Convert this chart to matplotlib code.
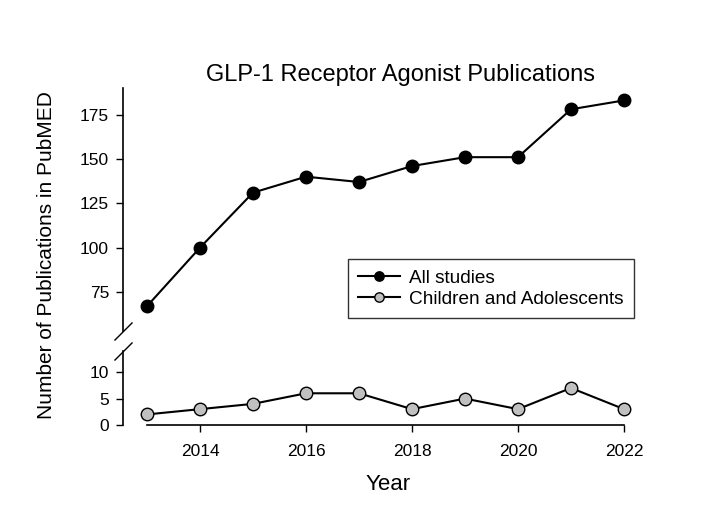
import matplotlib
matplotlib.use("Agg")
import matplotlib.pyplot as plt

years = [2013, 2014, 2015, 2016, 2017, 2018, 2019, 2020, 2021, 2022]
all_studies = [67, 100, 131, 140, 137, 146, 151, 151, 178, 183]
children = [2, 3, 4, 6, 6, 3, 5, 3, 7, 3]

upper_ticks = [75, 100, 125, 150, 175]
lower_ticks = [0, 5, 10]
x_ticks = [2014, 2016, 2018, 2020, 2022]

plt.rcParams['font.family'] = ['Liberation Sans', 'DejaVu Sans']

W, H = 707, 531
fig = plt.figure(figsize=(W / 100, H / 100), dpi=100)

left = 123 / W
right = 624 / W
ax_top = fig.add_axes([left, 1 - 331 / H, right - left, (331 - 88) / H])
ax_bot = fig.add_axes([left, 1 - 425 / H, right - left, (425 - 351) / H])

xlim = (2013 - 24 / 53, 2022)

ax_top.plot(years, all_studies, color='black', lw=1.5, marker='o', ms=9,
            mfc='black', mec='black', label='All studies', clip_on=False)
ax_top.plot([], [], color='black', lw=1.5, marker='o', ms=9,
            mfc='#c0c0c0', mec='black', label='Children and Adolescents')
ax_bot.plot(years, children, color='black', lw=1.5, marker='o', ms=9,
            mfc='#c0c0c0', mec='black', clip_on=False, zorder=3)

leg = ax_top.legend(loc='upper left',
                    bbox_to_anchor=((348 - 123) / (624 - 123), 1 - (259 - 88) / (331 - 88)),
                    fontsize=13.7, frameon=True, fancybox=False, edgecolor='black',
                    handlelength=2.2, handletextpad=0.45, borderpad=0.55,
                    labelspacing=0.2, markerscale=0.75, borderaxespad=0)
leg.get_frame().set_linewidth(1.0)

for ax in (ax_top, ax_bot):
    ax.set_xlim(*xlim)
    for s in ('top', 'right'):
        ax.spines[s].set_visible(False)
    ax.spines['left'].set_linewidth(1.2)
    ax.tick_params(axis='y', direction='out', length=5, width=1, labelsize=12.5, pad=5)
    ax.tick_params(axis='x', direction='out', length=5, width=1, labelsize=12.5, pad=9)

ax_top.set_ylim(53, 190)
ax_top.set_yticks(upper_ticks)
ax_top.spines['bottom'].set_visible(False)
ax_top.set_xticks([])

ax_bot.set_ylim(0, 14)
ax_bot.set_yticks(lower_ticks)
ax_bot.set_xticks(x_ticks)
ax_bot.spines['bottom'].set_bounds(2013, 2022)
ax_bot.spines['bottom'].set_linewidth(1.2)

# break marks on the y axis
brk = dict(marker=[(-1, -1), (1, 1)], markersize=13, linestyle='none',
           color='k', mec='k', mew=1, clip_on=False)
ax_top.plot([0], [0], transform=ax_top.transAxes, **brk)
ax_bot.plot([0], [1], transform=ax_bot.transAxes, **brk)

fig.text(400 / W, 1 - 75 / H, 'GLP-1 Receptor Agonist Publications',
         ha='center', va='center', fontsize=17)
fig.text(47 / W, 1 - 255 / H, 'Number of Publications in PubMED', rotation=90,
         ha='center', va='center', fontsize=15)
fig.text(388 / W, 1 - 484 / H, 'Year', ha='center', va='center', fontsize=16)

fig.savefig('out.png', dpi=100)
